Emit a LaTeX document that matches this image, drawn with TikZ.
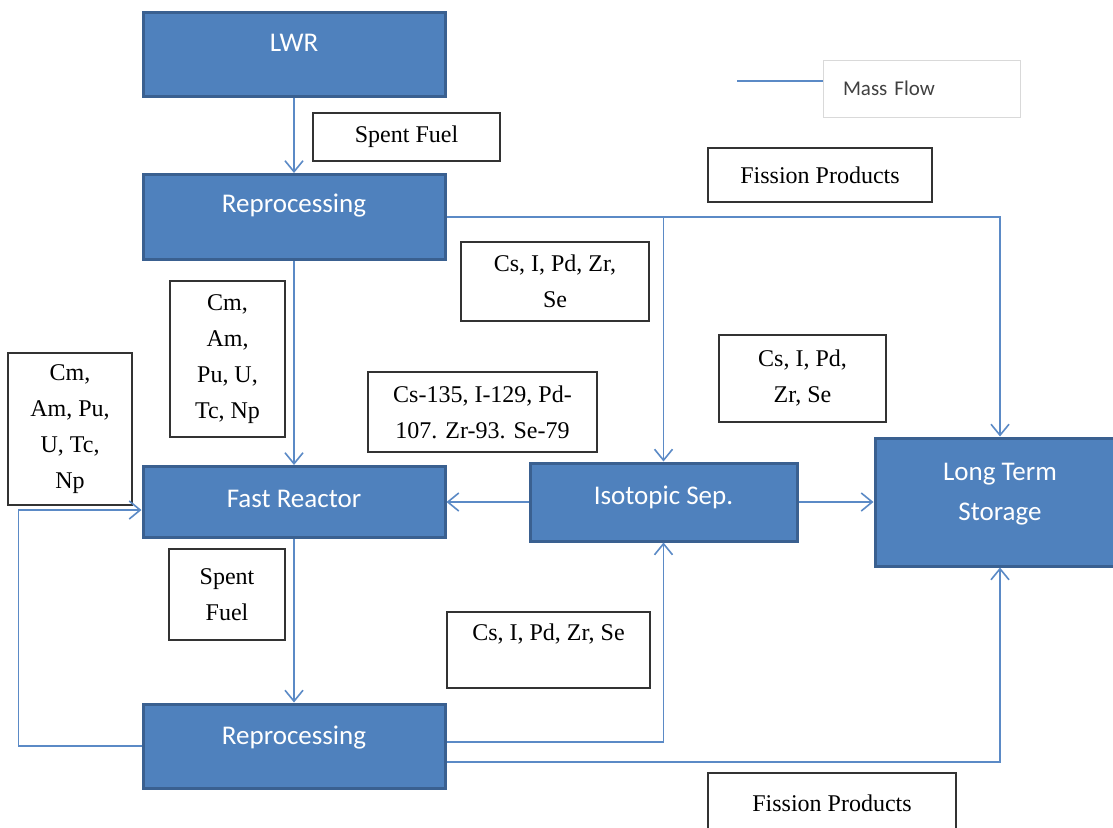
\documentclass[tikz,border=0pt]{standalone}
\usepackage{fontspec}
\setmainfont{Liberation Serif}
\newfontfamily\blockfont{Carlito}
\usetikzlibrary{positioning,arrows.meta}
\definecolor{blockblue}{HTML}{4F81BD}
\definecolor{blockedge}{HTML}{3A6090}
\definecolor{flowblue}{HTML}{5B8AC6}

\begin{document}
\begin{tikzpicture}[
    x=1pt, y=-1pt,
    % Node styles:
    block/.style={rectangle, draw=blockedge, line width=3pt, fill=blockblue,
                  text=white, align=center, text height=18pt,
                  font=\blockfont\fontsize{27}{41}\selectfont},
    textbox/.style={rectangle, draw=black!80, line width=1.2pt, fill=white,
                    align=center, inner sep=0pt,
                    font=\fontsize{24}{36}\selectfont},
    legendbox/.style={rectangle, draw=black!15, line width=1pt, text=black!75,
                      align=left, text width=157pt, inner xsep=20pt,
                      minimum height=57pt, font=\blockfont\fontsize{21}{25}\selectfont},
    % Arrow style:
    flow/.style={draw=flowblue, line width=1.6pt,
                 -{Straight Barb[length=11pt,width=18pt]}},
]
\useasboundingbox (0,0) rectangle (1113,827);

% --- BLOCKS (main column first) ---
\node[block, minimum width=302pt, minimum height=84pt, text depth=24pt]
      (lwr) at (294,54) {LWR};
\node[block, node distance=163pt, below of=lwr, minimum width=302pt,
      minimum height=85pt, text depth=28pt] (reproA) {Reprocessing};
\node[block, node distance=285pt, below of=reproA, minimum width=302pt,
      minimum height=71pt, text depth=8pt] (fast) {Fast Reactor};
\node[block, node distance=244pt, below of=fast, minimum width=302pt,
      minimum height=84pt, text depth=22pt] (reproB) {Reprocessing};

% Isotopic separation and storage to the right of the fast reactor
\node[block, node distance=369.5pt, right of=fast, minimum width=267pt,
      minimum height=78pt, text depth=14pt] (iso) {Isotopic Sep.};
\node[block, node distance=336.5pt, right of=iso, minimum width=250pt,
      minimum height=128pt, text height=, text depth=] (storage)
      {\raisebox{20pt}{\shortstack{Long Term\\[15pt]Storage}}};

% --- LEGEND ---
\node[legendbox] (legend) at (921.5,88.5) {Mass Flow};
\coordinate (massline) at (737,81);
\draw[draw=flowblue, line width=1.6pt] (massline) -- (massline -| legend.west);

% --- LABEL BOXES ---
\node[textbox, minimum width=187pt, minimum height=48pt] (spentA)
      at (406.5,137) {Spent Fuel};
\node[textbox, minimum width=224pt, minimum height=54pt] (fisA)
      at (820,175) {Fission Products};
\node[textbox, minimum width=188pt, minimum height=79pt] (csA)
      at (555,281.5) {Cs, I, Pd, Zr,\\Se};
\node[textbox, minimum width=115pt, minimum height=156pt] (cmA)
      at (227.5,359) {Cm,\\Am,\\Pu, U,\\Tc, Np};
\node[textbox, minimum width=124pt, minimum height=152pt] (cmB)
      at (70,429) {Cm,\\Am, Pu,\\U, Tc,\\Np};
\node[textbox, minimum width=229pt, minimum height=80pt] (isoList)
      at (482.5,412) {Cs-135, I-129, Pd-\\107. Zr-93. Se-79};
\node[textbox, minimum width=167pt, minimum height=87pt] (csB)
      at (802.5,378.5) {Cs, I, Pd,\\Zr, Se};
\node[textbox, minimum width=116pt, minimum height=91pt] (spentB)
      at (227,594.5) {Spent\\Fuel};
\node[textbox, minimum width=203pt, minimum height=76pt] (csC)
      at (548.5,650) {Cs, I, Pd, Zr, Se\\[-12pt]\strut};
\node[textbox, minimum width=248pt, minimum height=60pt] (fisB)
      at (832,803) {Fission Products};

% --- ARROWS ---
% Main top-down path
\draw[flow] (lwr) -- (reproA);
\draw[flow] (reproA) -- (fast);
\draw[flow] (fast) -- (reproB);

% First reprocessing -> storage, with branch to isotopic separation
\draw[flow] (reproA.east) -| (storage.north);
\draw[flow] (reproA.east -| iso.north) -- (iso.north);

% Isotopic separation outputs
\draw[flow] (iso) -- (fast);
\draw[flow] (iso) -- (storage);

% Recycle loop back into the fast reactor
\draw[flow] (reproB.west) -- ++(-123,0) |- ([yshift=-8pt]fast.west);

% Second reprocessing -> isotopic separation and storage
\draw[flow] ([yshift=4pt]reproB.east) -| (iso.south);
\draw[flow] ([yshift=-16pt]reproB.east) -| (storage.south);

\end{tikzpicture}
\end{document}
